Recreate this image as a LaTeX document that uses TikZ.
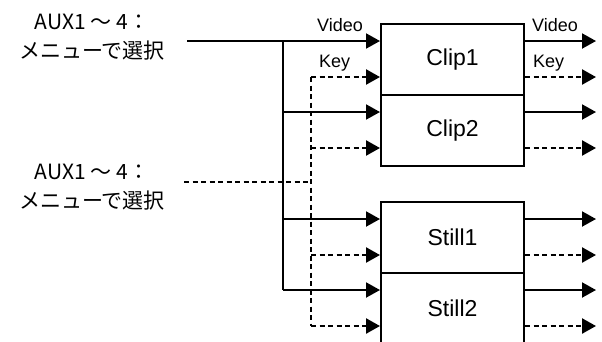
\documentclass[tikz,border=0pt]{standalone}
\usepackage{fontspec}
\setmainfont{Liberation Sans}
\newfontfamily\jpfont{Noto Sans CJK JP}
\usetikzlibrary{arrows.meta}

\begin{document}
\begin{tikzpicture}[x=1pt, y=-1pt,
    cell/.style={draw, line width=2pt, minimum width=143pt, minimum height=71pt,
      inner sep=0pt, font=\fontsize{23}{28}\selectfont},
    bus/.style={line width=2pt},
    keybus/.style={line width=2.4pt, dash pattern=on 5pt off 3.5pt},
    sig/.style={bus, -{Triangle[length=14pt, width=15pt]}},
    keysig/.style={keybus, -{Triangle[length=14pt, width=15pt]}},
    lbl/.style={anchor=base west, inner sep=0pt, font=\fontsize{18}{22}\selectfont},
    aux/.style={align=center, inner sep=0pt, font=\jpfont\fontsize{21}{29}\selectfont}]
    \useasboundingbox (0,0) rectangle (602,341);
    \clip (0,0) rectangle (602,341);

    % frame store cells
    \node[cell] (clip1) at (452.5,59.5) {Clip1};
    \node[cell] (clip2) at (452.5,130.5) {Clip2};
    \node[cell] (still1) at (452.5,237.5) {Still1};
    \node[cell] (still2) at (452.5,308.5) {Still2};

    % sources
    \node[aux] (auxv) at (92,37) {AUX1 ～ 4：\\メニューで選択};
    \node[aux] (auxk) at (92,187) {AUX1 ～ 4：\\メニューで選択};

    \coordinate (va) at (187,41);
    \coordinate (vb) at (283,41);
    \coordinate (ka) at (184,182);
    \coordinate (kb) at (311,77);

    % video / key rows of each cell
    \foreach \n in {clip1,clip2,still1,still2} {
        \coordinate (\n-vi) at ([yshift=18.5pt]\n.west);
        \coordinate (\n-ki) at ([yshift=-17.5pt]\n.west);
        \coordinate (\n-vo) at ([yshift=18.5pt]\n.east);
        \coordinate (\n-ko) at ([yshift=-17.5pt]\n.east);
    }

    % video and key buses
    \draw[bus, line width=1.7pt] (va) -- (vb);
    \draw[bus] (vb) -- (vb |- still2-vi);
    \draw[keybus, line width=1.7pt] (ka) -- (kb |- ka);
    \draw[keybus, line width=2.8pt] (kb) -- (kb |- still2-ki);

    \foreach \n in {clip1,clip2,still1,still2} {
        \draw[sig] (vb |- \n-vi) -- (\n-vi);
        \draw[keysig] (kb |- \n-ki) -- (\n-ki);
        \draw[sig] (\n-vo) -- ++(71,0);
        \draw[keysig] (\n-ko) -- ++(71,0);
    }

    \node[lbl] (vin) at (317,31) {Video};
    \node[lbl] (kin) at (319,67) {Key};
    \node[lbl] (vout) at (532,31) {Video};
    \node[lbl] (kout) at (533,67) {Key};
\end{tikzpicture}
\end{document}
